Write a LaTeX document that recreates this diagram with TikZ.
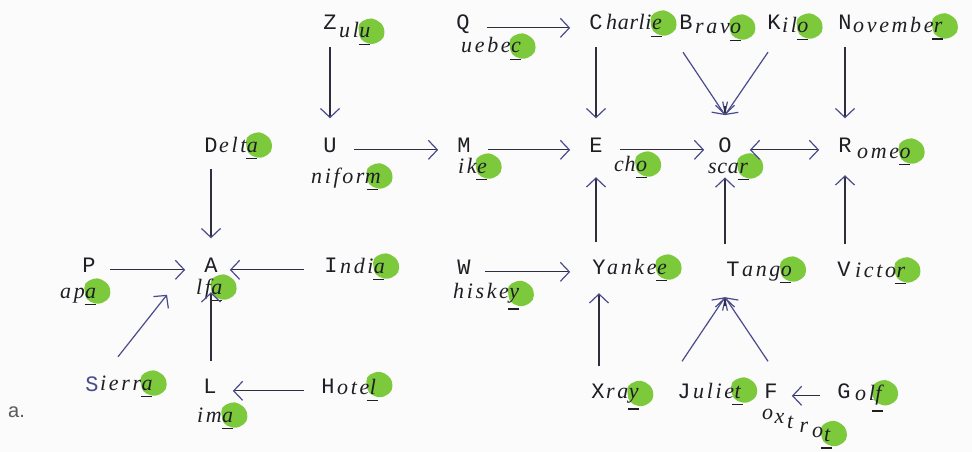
\documentclass[tikz,border=0pt]{standalone}
\usepackage{fontspec}
\usetikzlibrary{arrows.meta,calc}
\newfontfamily\capfont{Liberation Mono}
\newfontfamily\handfont{Liberation Serif}[LetterSpace=12]
\newfontfamily\handtight{Liberation Serif}[LetterSpace=3]
\newfontfamily\labelfont{Liberation Sans}
\definecolor{ink}{HTML}{1E1E24}
\definecolor{linec}{HTML}{2E2E3C}
\definecolor{tipc}{HTML}{4B4B8C}
\definecolor{marker}{HTML}{7DC93C}
\definecolor{paper}{HTML}{FBFBFB}
\pgfdeclarelayer{background}
\pgfsetlayers{background,main}

\tikzset{
  capl/.style={anchor=base, inner sep=0pt, text=ink, font={\capfont\fontsize{22}{24}\selectfont}},
  hand/.style={anchor=base west, inner sep=0pt, text=ink, font={\handfont\itshape\fontsize{22}{24}\selectfont}},
  tight/.style={font={\handtight\itshape\fontsize{22}{24}\selectfont}},
  barb/.style={-{Straight Barb[length=9pt,width=19pt,color=tipc]}},
  arr/.style={draw=linec, line width=1.2pt, barb, shorten <=17pt, shorten >=19pt},
  arrboth/.style={draw=linec, line width=1.2pt,
    {Straight Barb[length=9pt,width=19pt,color=tipc]}-{Straight Barb[length=9pt,width=19pt,color=tipc]},
    shorten <=18pt, shorten >=19pt},
  diag/.style={draw=tipc, line width=1.2pt},
  stub/.style={draw=linec, line width=1.2pt, barb},
  blob/.style={fill=marker, rounded corners=5pt},
  ul/.style={draw=ink, line width=1.4pt},
}

% one word: capital letter, handwritten body, last letter as its own node
% [#1] body options, #2 id, #3 capital position, #4 capital, #5 body position, #6 body, #7 last letter
\newcommand\wrd[7][]{%
  \node[capl] (#2) at #3 {#4};
  \node[hand,#1] (#2-b) at #5 {#6};
  \node[hand,#1] (#2-l) at (#2-b.base east) {#7};
}

\begin{document}
\begin{tikzpicture}[x=1pt, y=-1pt]
\useasboundingbox (0,0) rectangle (972,452);

% top row
\wrd{zulu}{(330,30)}{Z}{(339,38)}{ul}{u}
\wrd{quebec}{(463,30)}{Q}{(461,53)}{uebe}{c}
\wrd[tight]{charlie}{(596,30)}{C}{(606,30)}{harli}{e}
\wrd{bravo}{(686,30)}{B}{(695,34)}{rav}{o}
\wrd{kilo}{(774,30)}{K}{(782,33)}{il}{o}
\wrd{november}{(845,30)}{N}{(853,33)}{ovembe}{r}
% second row
\wrd{delta}{(211,152)}{D}{(219,152)}{elt}{a}
\wrd{uniform}{(330,152)}{U}{(311,183)}{nifor}{m}
\wrd{mike}{(464,152)}{M}{(458,173)}{ik}{e}
\wrd[tight]{echo}{(596,152)}{E}{(614,171)}{ch}{o}
\wrd[tight]{oscar}{(725,152)}{O}{(708,173)}{sca}{r}
\wrd{romeo}{(845,152)}{R}{(857,158)}{ome}{o}
% third row
\wrd{papa}{(89,272)}{P}{(60,298)}{ap}{a}
\wrd{alfa}{(211,272)}{A}{(196,294)}{lf}{a}
\wrd{india}{(331,272)}{I}{(340,273)}{ndi}{a}
\wrd{whiskey}{(464,274)}{W}{(453,298)}{hiske}{y}
\wrd{yankee}{(599,274)}{Y}{(607,274)}{anke}{e}
\wrd{tango}{(733,276)}{T}{(742,276)}{ang}{o}
\wrd{victor}{(844,276)}{V}{(855,277)}{icto}{r}
% bottom rows
\wrd{sierra}{(92,391)}{\color{tipc}S}{(100,390)}{ierr}{a}
\wrd{lima}{(210,393)}{L}{(197,422)}{im}{a}
\wrd{hotel}{(328,393)}{H}{(337,394)}{ote}{l}
\wrd{xray}{(598,398)}{X}{(606,398)}{ra}{y}
\wrd{juliet}{(684,398)}{J}{(693,398)}{ulie}{t}
\wrd{golf}{(844,398)}{G}{(855,400)}{ol}{f}
% Foxtrot: the body runs downhill, one letter a step lower than the one before
\node[capl] (foxtrot) at (771,398) {F};
\foreach \c [count=\i from 0] in {o,x,t,r,o}
  \node[hand] (foxtrot-\i) at ($(762,419)+(\i*12.5,\i*4.5)$) {\c};
\node[hand] (foxtrot-l) at ($(foxtrot-4.base west)+(12,4.5)$) {t};

\node[anchor=base west, inner sep=0pt, text=black!65, font={\labelfont\fontsize{20}{22}\selectfont}] (caption) at (8,417) {a.};

% marker blobs and underlines on the last letters
\begin{pgfonlayer}{background}
  \fill[paper] (0,0) rectangle (972,452);
  \foreach \w in {zulu,quebec,charlie,bravo,kilo,november,delta,uniform,mike,echo,oscar,romeo,
                  papa,alfa,india,whiskey,yankee,tango,victor,sierra,lima,hotel,xray,juliet,foxtrot,golf}{
    \fill[blob] ($(\w-l.center)+(5,-2)$) ++(-12,-8) -- ++(14,-6) -- ++(12,8) -- ++(1,13) -- ++(-12,7) -- ++(-13,-5) -- cycle;
  }
\end{pgfonlayer}
\foreach \w in {zulu,quebec,charlie,bravo,kilo,november,delta,uniform,mike,echo,oscar,romeo,
                papa,alfa,india,whiskey,yankee,tango,victor,sierra,lima,hotel,xray,juliet,foxtrot,golf}{
  \draw[ul] ($(\w-l.south)+(-6,6)$) -- ($(\w-l.south)+(5,6)$);
}

% horizontal connectors
\draw[arr] (quebec.mid east) -- (charlie.mid west);
\draw[arr] (uniform.mid east) -- (mike.mid west);
\draw[arr] (mike.mid east) -- (echo.mid west);
\draw[arr, shorten >=14pt] (echo.mid east) -- (oscar.mid west);
\draw[arrboth] (oscar.mid east) -- (romeo.mid west);
\draw[arr, shorten <=14pt] (papa.mid east) -- (alfa.mid west);
\draw[arr, shorten <=20pt, shorten >=12pt] (india.mid west) -- (alfa.mid east);
\draw[arr, shorten >=16pt] (hotel.mid west) -- (lima.mid east);
\draw[arr, shorten <=14pt, shorten >=22pt] (whiskey.mid east) -- (yankee.mid west);
\draw[arr, shorten >=14pt] (golf.mid west) -- (foxtrot.mid east);

% vertical connectors
\draw[arr] (zulu.south) -- (uniform.north);
\draw[arr] (charlie.south) -- (echo.north);
\draw[arr] (november.south) -- (romeo.north);
\draw[arr] (delta.south) -- (alfa.north);
\draw[arr, shorten >=25pt] (echo.south |- yankee.north) -- (echo.south);
\draw[arr, shorten >=25pt] (oscar.south |- tango.north) -- (oscar.south);
\draw[arr, shorten >=23pt] (romeo.south |- victor.north) -- (romeo.south);
\draw[arr, shorten >=20pt] (alfa.south |- lima.north) -- (alfa.south);
\draw[arr] (yankee.south |- xray.north) -- (yankee.south);

% converging connectors into Oscar and Tango
\coordinate (omerge) at ($(oscar.north)+(0,-22)$);
\draw[diag, barb] ($(bravo.south)+(-3,22)$) -- (omerge);
\draw[diag, barb] ($(kilo.south)+(-6,22)$) -- (omerge);
\draw[stub] ($(omerge)+(0,-9)$) -- (omerge);

\coordinate (tmerge) at ($(oscar.south |- tango.south)+(0,21)$);
\draw[diag, barb] ($(juliet.north)+(-2,-22)$) -- (tmerge);
\draw[diag, barb] ($(foxtrot.north)+(-3,-22)$) -- (tmerge);
\draw[stub] ($(tmerge)+(0,9)$) -- (tmerge);

% Sierra into Alfa
\draw[diag, barb] ($(sierra)+(26,-27)$) -- ($(alfa)+(-44,30)$);
\end{tikzpicture}
\end{document}
